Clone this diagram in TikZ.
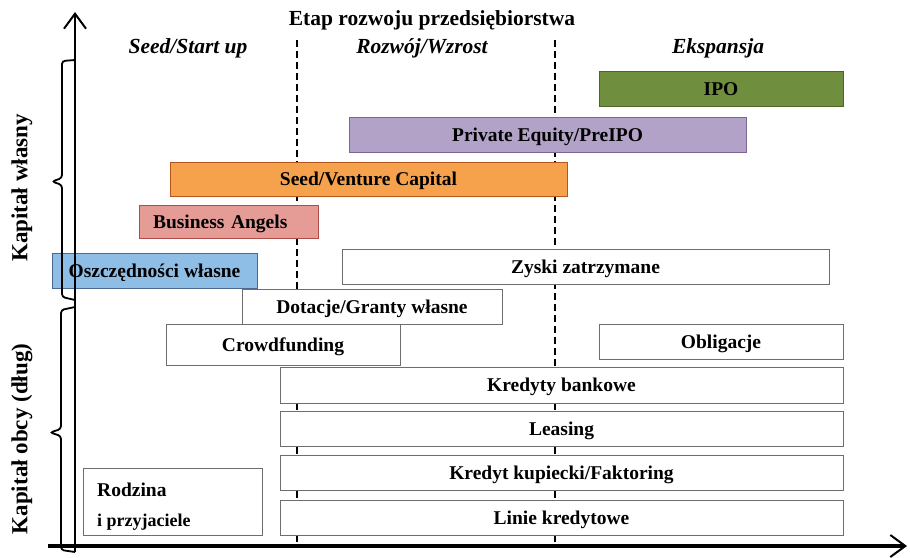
\documentclass[tikz,border=0pt]{standalone}
\usepackage{fontspec}
\setmainfont{Liberation Serif}
\usetikzlibrary{arrows.meta}

\definecolor{ipofill}{HTML}{6F8F3E}
\definecolor{ipoline}{HTML}{4F6228}
\definecolor{pefill}{HTML}{B3A2C7}
\definecolor{peline}{HTML}{7A6796}
\definecolor{vcfill}{HTML}{F6A24C}
\definecolor{vcline}{HTML}{B6561C}
\definecolor{bafill}{HTML}{E59C97}
\definecolor{baline}{HTML}{AE4D48}
\definecolor{osfill}{HTML}{8EBDE6}
\definecolor{osline}{HTML}{4A6A92}
\definecolor{boxline}{HTML}{6E6E6E}

\newcommand{\barfont}{\fontsize{19.5}{22}\selectfont\bfseries}
\newcommand{\stagefont}{\fontsize{21.5}{24}\selectfont\bfseries\itshape}
% bar node given by its corners: name, x1, y1, x2, y2, style, text
\newcommand{\finbar}[7]{%
  \node[bar,#6,minimum width={#4-#2},minimum height={#5-#3}] (#1)
    at ({(#2+#4)/2},{(#3+#5)/2}) {#7};}

\begin{document}
\begin{tikzpicture}[x=1pt,y=-1pt,
  bar/.style={draw=boxline, line width=0.9pt, fill=white, inner sep=0pt,
    outer sep=0pt, font=\barfont, text height=17pt, text depth=4pt},
  stagedash/.style={draw=black, line width=1.3pt, dash pattern=on 7pt off 4pt},
  axis/.style={draw=black, -{Straight Barb[length=15pt,width=22pt,line width=2pt]}},
  brace/.style={draw=black, line width=1.8pt, rounded corners=3pt},
  stage/.style={font=\stagefont, inner sep=0pt},
  sidelabel/.style={font=\fontsize{23}{26}\selectfont\bfseries, rotate=90, inner sep=0pt}]

\useasboundingbox (0,0) rectangle (910,557);

% stage separators
\coordinate (d1top) at (297,40);
\coordinate (d1bot) at (297,546);
\coordinate (d2top) at (555,40);
\coordinate (d2bot) at (555,546);
\draw[stagedash] (d1top) -- (d1bot);
\draw[stagedash] (d2top) -- (d2bot);

% headings
\node[font=\fontsize{21.5}{24}\selectfont\bfseries, inner sep=0pt] (title) at (432,20)
  {Etap rozwoju przedsiębiorstwa};
\node[stage] (seed) at (188,48) {Seed/Start up};
\node[stage] (growth) at (422,48) {Rozwój/Wzrost};
\node[stage] (exp) at (718,48) {Ekspansja};

% equity sources
\finbar{ipo}{599}{71}{843}{106}{fill=ipofill, draw=ipoline}{IPO}
\finbar{pe}{349}{117}{746}{152}{fill=pefill, draw=peline}{Private Equity/PreIPO}
\finbar{vc}{170}{162}{567}{196}{fill=vcfill, draw=vcline}{Seed/Venture Capital}
\finbar{ba}{139}{205}{318}{238}{fill=bafill, draw=baline, text width=165pt, align=left}{\hspace*{7pt}Business Angels}
\finbar{zyski}{342}{249}{829}{284}{}{Zyski zatrzymane}
\finbar{dot}{242}{289}{502}{324}{}{Dotacje/Granty własne}
\finbar{crowd}{166}{324}{400}{365}{}{Crowdfunding}
\finbar{osz}{52}{253}{257}{288}{fill=osfill, draw=osline}{Oszczędności własne}

% debt sources
\finbar{obl}{599}{324}{843}{359}{}{Obligacje}
\finbar{kred}{280}{367}{843}{403}{}{Kredyty bankowe}
\finbar{leas}{280}{411}{843}{446}{}{Leasing}
\finbar{kup}{280}{455}{843}{490}{}{Kredyt kupiecki/Faktoring}
\finbar{linie}{280}{500}{843}{535}{}{Linie kredytowe}
\finbar{rodz}{83}{468}{262}{535}{}{}
\node[anchor=base west, inner sep=0pt, font=\barfont] (rodz1) at (97,496) {Rodzina};
\node[anchor=base west, inner sep=0pt, font=\fontsize{18}{20}\selectfont\bfseries] (rodz2) at (97,526) {i przyjaciele};

% axes
\coordinate (ybot) at (75,552);
\coordinate (ytop) at (75,12);
\coordinate (xleft) at (48,546);
\coordinate (xright) at (907,546);
\draw[axis, line width=2.2pt] (ybot) -- (ytop);
\draw[axis, line width=3.4pt] (xleft) -- (xright);

% braces for the two kinds of capital
\draw[brace] (75,60) -- (62,61) -- (62,178) -- (52,181.5) -- (62,185) -- (62,297) -- (75,300);
\draw[brace] (75,307) -- (61,310) -- (61,429) -- (50,432.5) -- (61,436) -- (61,550) -- (75,552);

\node[sidelabel] (eq) at (22,188) {Kapitał własny};
\node[sidelabel] (debt) at (22,439) {Kapitał obcy (dług)};

\end{tikzpicture}
\end{document}
